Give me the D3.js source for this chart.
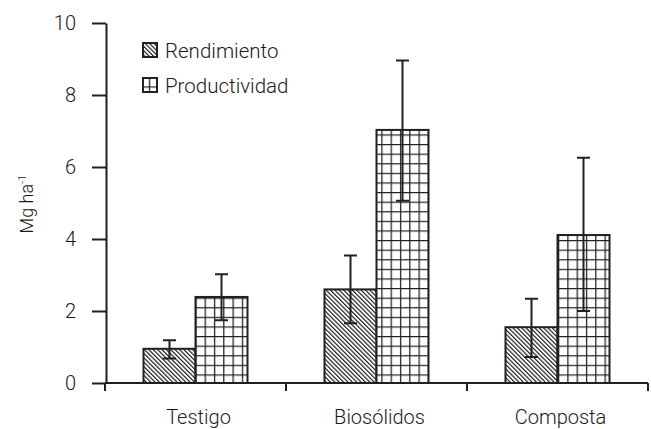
<!DOCTYPE html>
<html>
<head>
<meta charset="utf-8">
<script src="https://cdn.jsdelivr.net/npm/d3@7/dist/d3.min.js"></script>
<style>
  html, body { margin: 0; padding: 0; background: #fff; }
  svg { display: block; }
  svg text { font-family: Roboto, "Liberation Sans", Arial, sans-serif; font-weight: 300; }
</style>
</head>
<body>
<svg id="chart" width="651" height="429"></svg>
<script>
// Treatments on the x axis
const categories = ["Testigo", "Biosólidos", "Composta"];
// Series names (legend)
const series = ["Rendimiento", "Productividad"];
// Mean values (Mg ha-1) per treatment
const rendimiento = [0.95, 2.60, 1.55];
const productividad = [2.39, 7.03, 4.11];
// Error bar limits (lower, upper)
const rendLow = [0.68, 1.66, 0.72];
const rendHigh = [1.19, 3.54, 2.34];
const prodLow = [1.74, 5.06, 2.00];
const prodHigh = [3.02, 8.96, 6.26];
// Y tick values
const yTicks = [0, 2, 4, 6, 8, 10];

const ink = "#231f20";
const svg = d3.select("#chart");

const rows = [];
categories.forEach((c, i) => {
  rows.push({ cat: c, ser: series[0], v: rendimiento[i], lo: rendLow[i], hi: rendHigh[i] });
  rows.push({ cat: c, ser: series[1], v: productividad[i], lo: prodLow[i], hi: prodHigh[i] });
});

const x = d3.scaleBand().domain(categories).range([105, 648]).padding(0);
const x1 = d3.scaleBand().domain(series).range([0, x.bandwidth()]).paddingInner(0).paddingOuter(0.74);
const y = d3.scaleLinear().domain([0, 10]).range([383, 23]);

// Fill patterns
const defs = svg.append("defs");
const hatch = defs.append("pattern")
  .attr("id", "hatch").attr("patternUnits", "userSpaceOnUse")
  .attr("width", 3.1).attr("height", 3.1)
  .attr("patternTransform", "rotate(-45)");
hatch.append("rect").attr("width", 3.1).attr("height", 3.1).attr("fill", "#fff");
hatch.append("line").attr("x1", 0.6).attr("y1", 0).attr("x2", 0.6).attr("y2", 3.1)
  .attr("stroke", ink).attr("stroke-width", 1.2);

const grid = defs.append("pattern")
  .attr("id", "grid").attr("patternUnits", "userSpaceOnUse")
  .attr("width", 9.3).attr("height", 9.6);
grid.append("rect").attr("width", 9.3).attr("height", 9.6).attr("fill", "#fff");
grid.append("path").attr("d", "M0.6,0V9.6M0,0.6H9.3")
  .attr("stroke", ink).attr("stroke-width", 1.3).attr("fill", "none");

const fillFor = s => s === series[0] ? "url(#hatch)" : "url(#grid)";

// Bars
svg.append("g").selectAll("rect").data(rows).join("rect")
  .attr("x", d => x(d.cat) + x1(d.ser))
  .attr("y", d => y(d.v))
  .attr("width", x1.bandwidth())
  .attr("height", d => y(0) - y(d.v))
  .attr("fill", d => fillFor(d.ser))
  .attr("stroke", ink).attr("stroke-width", 2);

// Error bars
const eb = svg.append("g").attr("stroke", ink).attr("stroke-width", 2).attr("fill", "none");
const cap = 6.5;
eb.selectAll("path").data(rows).join("path")
  .attr("d", d => {
    const cx = x(d.cat) + x1(d.ser) + x1.bandwidth() / 2;
    return `M${cx},${y(d.lo)}V${y(d.hi)}` +
           `M${cx - cap},${y(d.hi)}H${cx + cap}` +
           `M${cx - cap},${y(d.lo)}H${cx + cap}`;
  });

// Y axis
const yAxis = svg.append("g").attr("transform", "translate(106,0)")
  .call(d3.axisLeft(y).tickValues(yTicks).tickSize(14).tickPadding(16).tickSizeOuter(0));
yAxis.attr("font-family", null);
yAxis.select(".domain").attr("stroke", ink).attr("stroke-width", 2);
yAxis.selectAll(".tick line").attr("stroke", ink).attr("stroke-width", 2);
yAxis.selectAll(".tick text").attr("font-size", 20).attr("fill", "#1a1a1a");

// X axis: baseline and boundary ticks
const xg = svg.append("g").attr("stroke", ink).attr("stroke-width", 2);
xg.append("line").attr("x1", 105).attr("x2", 648).attr("y1", y(0)).attr("y2", y(0));
const bounds = categories.map(c => x(c)).concat([x.range()[1]]);
xg.selectAll(".xt").data(bounds).join("line").attr("class", "xt")
  .attr("x1", d => d).attr("x2", d => d).attr("y1", y(0)).attr("y2", y(0) + 8);

svg.append("g").selectAll("text").data(categories).join("text")
  .attr("x", d => x(d) + x.bandwidth() / 2 + 3)
  .attr("y", 424)
  .attr("text-anchor", "middle")
  .attr("font-size", 20).attr("fill", "#1a1a1a")
  .text(d => d);

// Y axis title
const yt = svg.append("text")
  .attr("transform", "translate(33,204) rotate(-90)")
  .attr("text-anchor", "middle")
  .attr("font-size", 18).attr("fill", "#1a1a1a");
yt.append("tspan").text("Mg ha");
yt.append("tspan").attr("font-size", 11).attr("dy", -7).text("-1");

// Legend
const lg = svg.append("g");
const legendRows = [{ s: series[0], y: 43, base: 58 }, { s: series[1], y: 78, base: 93 }];
legendRows.forEach(r => {
  lg.append("rect").attr("x", 143).attr("y", r.y).attr("width", 14).attr("height", 14)
    .attr("fill", fillFor(r.s)).attr("stroke", ink).attr("stroke-width", 2);
  lg.append("text").attr("x", 165).attr("y", r.base)
    .attr("font-size", 20.5).attr("fill", "#1a1a1a").text(r.s);
});
</script>
</body>
</html>
